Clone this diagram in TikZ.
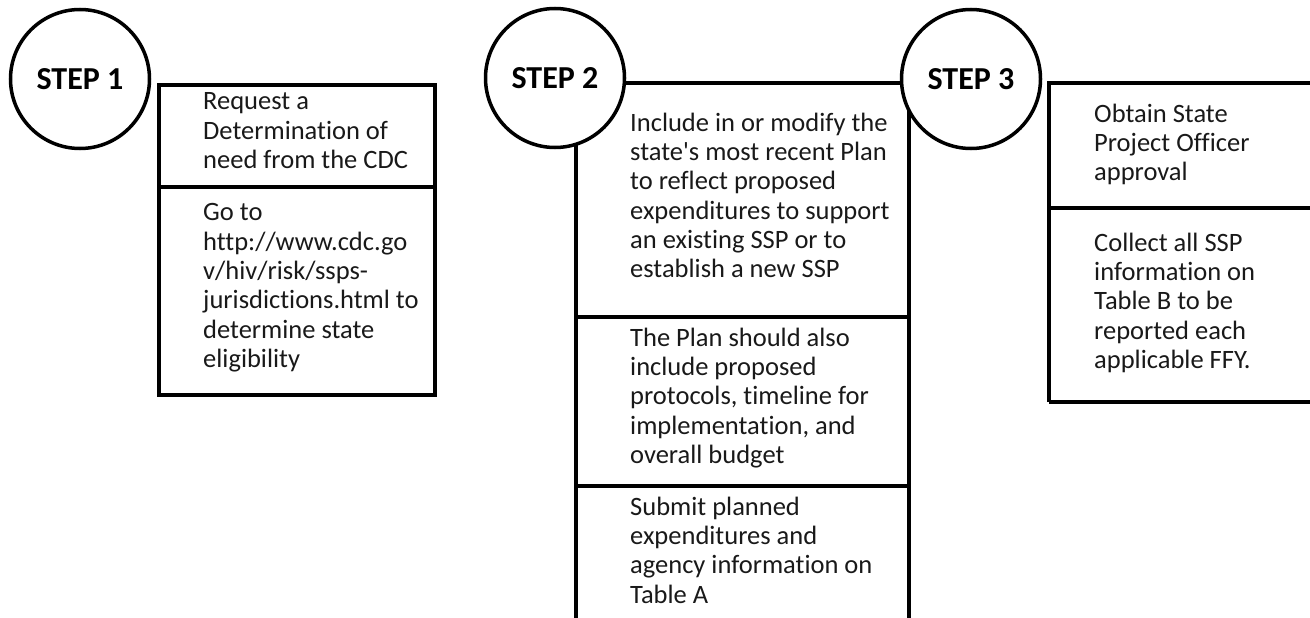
\documentclass[tikz,border=0pt]{standalone}
\usepackage{fontspec}
\setmainfont{Carlito}[Ligatures=NoCommon]
\usepackage{tikz}

\tikzset{
  stepnode/.style={shape=circle,draw=black,line width=3.5pt,fill=white,
    minimum size=139pt,inner sep=0pt,font=\fontsize{32}{38}\selectfont\bfseries},
  boxline/.style={draw=black,line width=4pt},
  boxtext/.style={align=left,anchor=north west,inner sep=0pt,yshift=20.5pt,
    text=black!90,font=\fontsize{26.5}{29.3}\selectfont,execute at begin node=\strut}
}

\begin{document}
\begin{tikzpicture}[x=1pt,y=-1pt]
			\clip (0,0) rectangle (1310,618);
			
			% boxes
			\draw[boxline] (159,85) rectangle (435,395);
			\draw[boxline] (159,187) -- (435,187);
			\draw[boxline] (576,83) rectangle (909,660);
			\draw[boxline] (576,317) -- (909,317);
			\draw[boxline] (576,486) -- (909,486);
			\draw[boxline] (1049,402) -- (1049,83) -- (1330,83);
			\draw[boxline] (1049,208) -- (1330,208);
			\draw[boxline] (1049,402) -- (1330,402);
			
			\node[stepnode] (S1) at (80,79) {STEP 1};
			\node[stepnode] (S2) at (555,78) {STEP 2};
			\node[stepnode] (S3) at (971,79) {STEP 3};
			
			\node[boxtext] (A1) at (203,113) {Request a\\Determination of\\need from the CDC};
			\node[boxtext] (A2) at (203,224) {Go to\\http://www.cdc.go\\v/hiv/risk/ssps-\\jurisdictions.html to\\determine state\\eligibility};
			
			\node[boxtext] (B1) at (630,133) {Include in or modify the\\state\textquotesingle s most recent Plan\\to reflect proposed\\expenditures to support\\an existing SSP or to\\establish a new SSP};
			\node[boxtext] (B2) at (630,348) {The Plan should also\\include proposed\\protocols, timeline for\\implementation, and\\overall budget};
			\node[boxtext] (B3) at (630,517) {Submit planned\\expenditures and\\agency information on\\Table A};
			
			\node[boxtext] (C1) at (1094,124) {Obtain State\\Project Officer\\approval};
			\node[boxtext] (C2) at (1094,253) {Collect all SSP\\information on\\Table B to be\\reported each\\applicable FFY.};
\end{tikzpicture}
\end{document}
